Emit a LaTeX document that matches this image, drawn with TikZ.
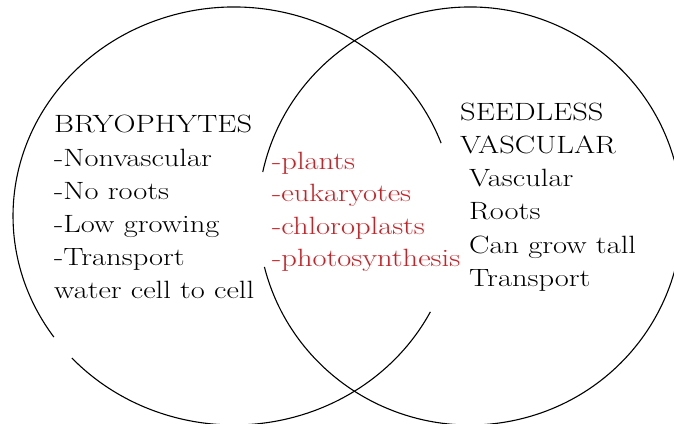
\documentclass[tikz,border=0pt]{standalone}
\usepackage{graphicx}
\usetikzlibrary{calc}
\definecolor{redtxt}{RGB}{205,30,35}
\newcommand\sxw[1]{\scalebox{1.22}[1]{#1}}
\tikzset{
  txt/.style={font=\fontsize{25}{33}\selectfont, anchor=base west, inner sep=0pt, text=black},
  redt/.style={txt, text=redtxt},
  ring/.style={draw=black, line width=1.1pt}
}
\begin{document}
\begin{tikzpicture}[x=1pt,y=1pt]
\useasboundingbox (0,0) rectangle (674,423);
% left circle (ellipse) centre (234,207), rx 221, ry 209
\coordinate (lc) at (234,207);
\coordinate (rc) at (470,207);
\draw[ring] ($(lc)+(20.4:221 and 209)$) arc[start angle=20.4, end angle=215.4, x radius=221, y radius=209];
\draw[ring] ($(lc)+(222.8:221 and 209)$) arc[start angle=222.8, end angle=332.7, x radius=221, y radius=209];
% right circle centre (470,207), rx 212, ry 209
\draw[ring] ($(rc)+(194.1:212 and 209)$) arc[start angle=194.1, end angle=527.85, x radius=212, y radius=209];
% left text
\node[txt] (l1) at (54,290) {\sxw{BRYOPHYTES}};
\node[txt] (l2) at (54,256) {\sxw{-Nonvascular}};
\node[txt] (l3) at (54,223) {\sxw{-No roots}};
\node[txt] (l4) at (54,190) {\sxw{-Low growing}};
\node[txt] (l5) at (54,157) {\sxw{-Transport}};
\node[txt] (l6) at (54,124) {\sxw{water cell to cell}};
% middle text
\node[redt] (m1) at (272,253) {\sxw{-plants}};
\node[redt] (m2) at (272,221) {\sxw{-eukaryotes}};
\node[redt] (m3) at (272,188) {\sxw{-chloroplasts}};
\node[redt] (m4) at (272,156) {\sxw{-photosynthesis}};
% right text
\node[txt] (r1) at (460,302) {\sxw{SEEDLESS}};
\node[txt] (r2) at (460,269) {\sxw{VASCULAR}};
\node[txt] (r3) at (469,236) {\sxw{Vascular}};
\node[txt] (r4) at (469,203) {\sxw{Roots}};
\node[txt] (r5) at (469,169) {\sxw{Can grow tall}};
\node[txt] (r6) at (469,136) {\sxw{Transport}};
\end{tikzpicture}
\end{document}
